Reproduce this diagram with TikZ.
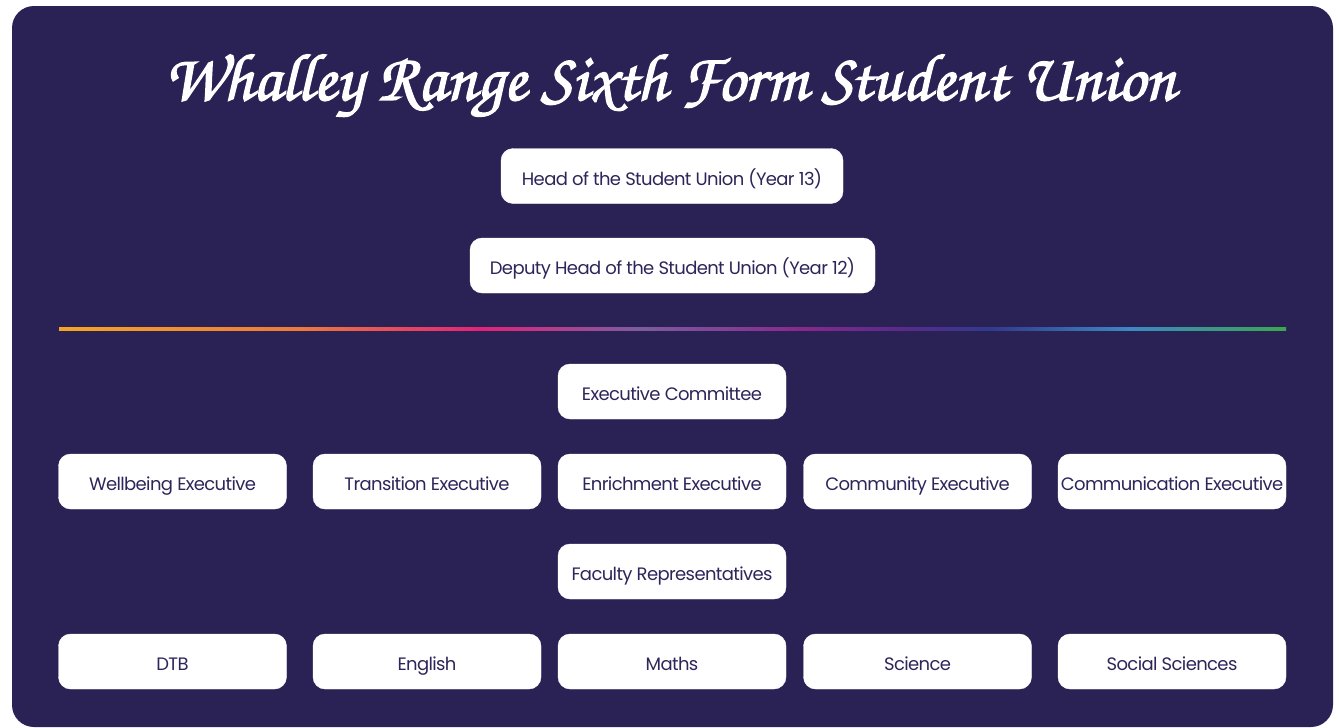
\documentclass[tikz,border=0pt]{standalone}
\usepackage{fontspec}
\setmainfont{Poppins}[LetterSpace=-3.5]
\newfontfamily\titlefont{TeX Gyre Chorus}[FakeBold=2]
\definecolor{bgpurple}{RGB}{42,34,85}
\definecolor{boxtext}{RGB}{45,38,90}
\definecolor{gA}{HTML}{F5A524}
\definecolor{gB}{HTML}{EC7A3C}
\definecolor{gC}{HTML}{E2237A}
\definecolor{gD}{HTML}{7D5C9F}
\definecolor{gE}{HTML}{862A8C}
\definecolor{gF}{HTML}{5A2A8C}
\definecolor{gG}{HTML}{313A8E}
\definecolor{gH}{HTML}{3D88C4}
\definecolor{gI}{HTML}{3BA650}
\pgfdeclarehorizontalshading{rainbowline}{100bp}{color(0bp)=(gA); color(25bp)=(gA); color(34.8bp)=(gB); color(42.2bp)=(gC); color(48.6bp)=(gD); color(55.2bp)=(gE); color(59.2bp)=(gF); color(63bp)=(gG); color(68.6bp)=(gH); color(75bp)=(gI); color(100bp)=(gI)}
\tikzset{
  rolebox/.style={draw=white, fill=white, rounded corners=12pt, minimum height=55pt, inner sep=0pt, text height=20pt, text depth=2pt, text=boxtext, font=\fontsize{18}{20}\selectfont},
  wide/.style={minimum width=228pt}
}
\begin{document}
\begin{tikzpicture}[x=1pt,y=-1pt]
\useasboundingbox (0,0) rectangle (1339,728);
\fill[white] (0,0) rectangle (1339,728);
\fill[bgpurple, rounded corners=22pt] (12,6) rectangle (1333,727);
\node[text=white, anchor=base, inner sep=0pt, font=\titlefont\fontsize{67}{72}\selectfont] (title) at (670,100) {Whalley Range Sixth Form Student Union};
\node[rolebox, minimum width=342pt] (head) at (672,176) {Head of the Student Union (Year 13)};
\node[rolebox, minimum width=405pt] (deputy) at (672.5,265.5) {Deputy Head of the Student Union (Year 12)};
\shade[shading=rainbowline] (59,327.5) rectangle (1286,330.5);
\node[rolebox, wide] (exec) at (672,391.5) {Executive Committee};
\node[rolebox, wide] (well) at (172.5,481.5) {Wellbeing Executive};
\node[rolebox, wide] (trans) at (427,481.5) {Transition Executive};
\node[rolebox, wide] (enrich) at (672,481.5) {Enrichment Executive};
\node[rolebox, wide] (comm) at (917.5,481.5) {Community Executive};
\node[rolebox, wide] (commu) at (1172,481.5) {Communication Executive};
\node[rolebox, wide] (faculty) at (672,571.5) {Faculty Representatives};
\node[rolebox, wide] (dtb) at (172.5,661.5) {DTB};
\node[rolebox, wide] (eng) at (427,661.5) {English};
\node[rolebox, wide] (maths) at (672,661.5) {Maths};
\node[rolebox, wide] (sci) at (917.5,661.5) {Science};
\node[rolebox, wide] (soc) at (1172,661.5) {Social Sciences};
\end{tikzpicture}
\end{document}
